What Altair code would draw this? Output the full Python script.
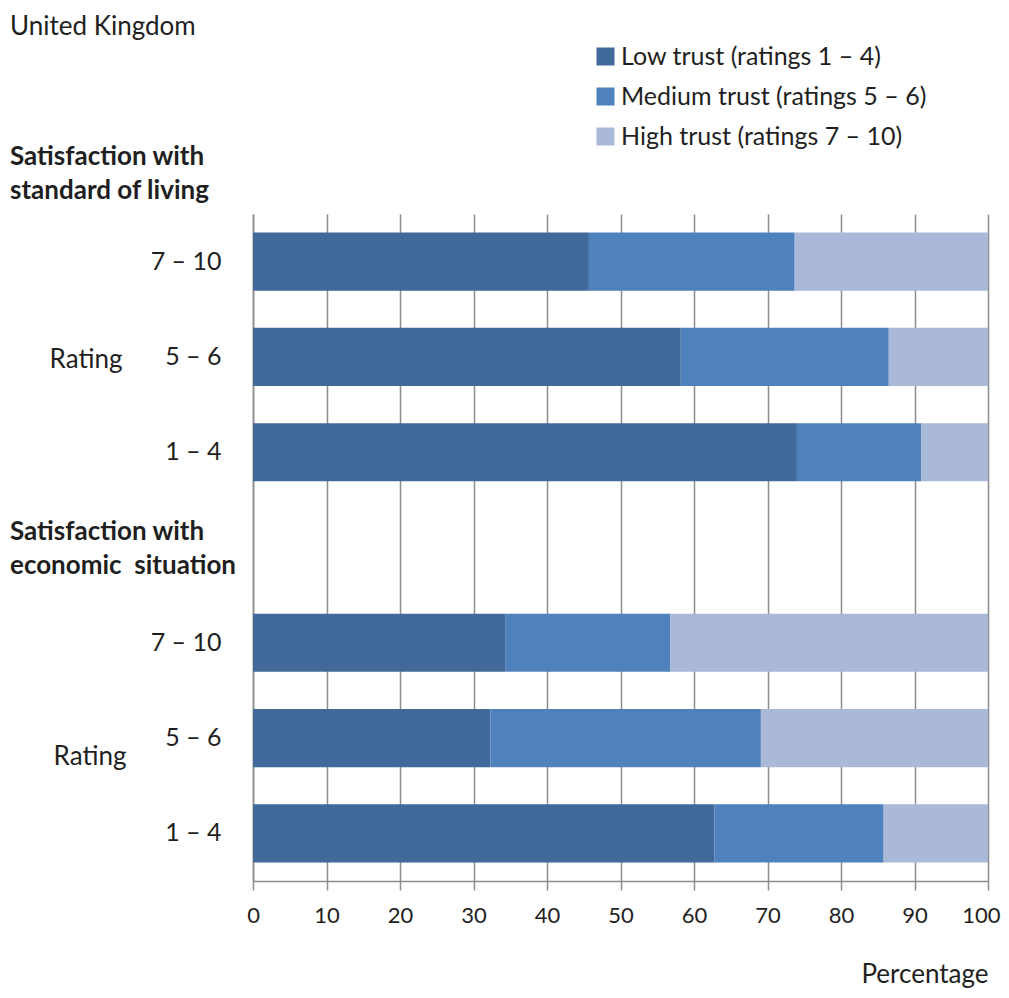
import altair as alt
import pandas as pd

# ---- data ----
groups = ["S", "S", "S", "E", "E", "E"]
ratings = ["7 – 10", "5 – 6", "1 – 4", "7 – 10", "5 – 6", "1 – 4"]
low_trust = [45.7, 58.2, 74.0, 34.3, 32.3, 62.8]
medium_trust = [28.0, 28.3, 16.9, 22.5, 36.8, 23.0]
high_trust = [26.3, 13.5, 9.1, 43.2, 30.9, 14.2]

series_names = ["Low trust (ratings 1 – 4)", "Medium trust (ratings  5 – 6)", "High trust (ratings 7 – 10)"]
series_colors = ["#41699A", "#4F81BD", "#AAB9D7"]
x_ticks = [0, 10, 20, 30, 40, 50, 60, 70, 80, 90, 100]

slot_domain = ["S|7 – 10", "S|5 – 6", "S|1 – 4", "G|", "E|7 – 10", "E|5 – 6", "E|1 – 4"]

rows = []
for g, r, lo, me, hi in zip(groups, ratings, low_trust, medium_trust, high_trust):
    for i, (name, v) in enumerate(zip(series_names, [lo, me, hi])):
        rows.append({"slot": f"{g}|{r}", "trust": name, "value": v, "idx": i})
df = pd.DataFrame(rows)

FONT = "Lato"
TXT = "#1f1f1f"
GRID = "#8c8c8c"

bars = alt.Chart(df).mark_bar().encode(
    x=alt.X("value:Q", stack="zero",
            scale=alt.Scale(domain=[0, 100], nice=False),
            axis=alt.Axis(values=x_ticks, grid=True, gridColor=GRID, gridWidth=1.5,
                          domainColor=GRID, domainWidth=1.5, tickColor=GRID, tickWidth=1.5,
                          tickSize=9, labelFontSize=22, labelFont=FONT, labelColor=TXT,
                          labelPadding=15, labelFlush=False,
                          labelAlign={"condition": {"test": "datum.value == 100", "value": "right"},
                                      "value": "center"},
                          labelOffset={"condition": {"test": "datum.value == 100", "value": 12},
                                       "value": 0},
                          title="Percentage", titleFont=FONT, titleFontSize=26,
                          titleFontWeight="normal", titleColor=TXT, titleAnchor="end",
                          titlePadding=35)),
    y=alt.Y("slot:N", sort=slot_domain,
            scale=alt.Scale(domain=slot_domain, paddingInner=0.39, paddingOuter=0.195),
            axis=alt.Axis(title=None, ticks=False, grid=False, domainColor=GRID, domainWidth=1.5,
                          labelExpr="split(datum.label, '|')[1]", labelFontSize=25,
                          labelFont=FONT, labelColor=TXT, labelPadding=32)),
    color=alt.Color("trust:N", scale=alt.Scale(domain=series_names, range=series_colors),
                    legend=alt.Legend(title=None, orient="none", legendX=340, legendY=-170,
                                      symbolType="square", symbolSize=324, symbolStrokeWidth=0,
                                      labelFont=FONT, labelFontSize=25, labelColor=TXT,
                                      rowPadding=14, labelOffset=3, labelLimit=400)),
    order=alt.Order("idx:Q"),
)

ann = pd.DataFrame({"t": ["x"]})


def text_layer(txt, x, y, bold=False, align="left", size=25):
    return alt.Chart(ann).mark_text(
        align=align, baseline="middle", font=FONT, fontSize=size,
        fontWeight="bold" if bold else "normal", color=TXT, lineHeight=34,
    ).encode(x=alt.value(x), y=alt.value(y), text=alt.value(txt))


title = text_layer("United Kingdom", -243, -187, size=26)
h1 = text_layer(["Satisfaction with", "standard of living"], -243, -57, bold=True, size=26)
h2 = text_layer(["Satisfaction with", "economic\u00a0\u00a0situation"], -243, 318, bold=True, size=26)
r1 = text_layer("Rating", -167, 146, align="center", size=26)
r2 = text_layer("Rating", -163, 543, align="center", size=26)

chart = alt.layer(bars, title, h1, h2, r1, r2).properties(
    width=735, height=667,
    autosize=alt.AutoSizeParams(type="none"),
    padding={"left": 245, "top": 206, "right": 13, "bottom": 109},
).configure_view(stroke=None)

chart.save("out.html", embed_options={"renderer": "svg", "actions": False})
